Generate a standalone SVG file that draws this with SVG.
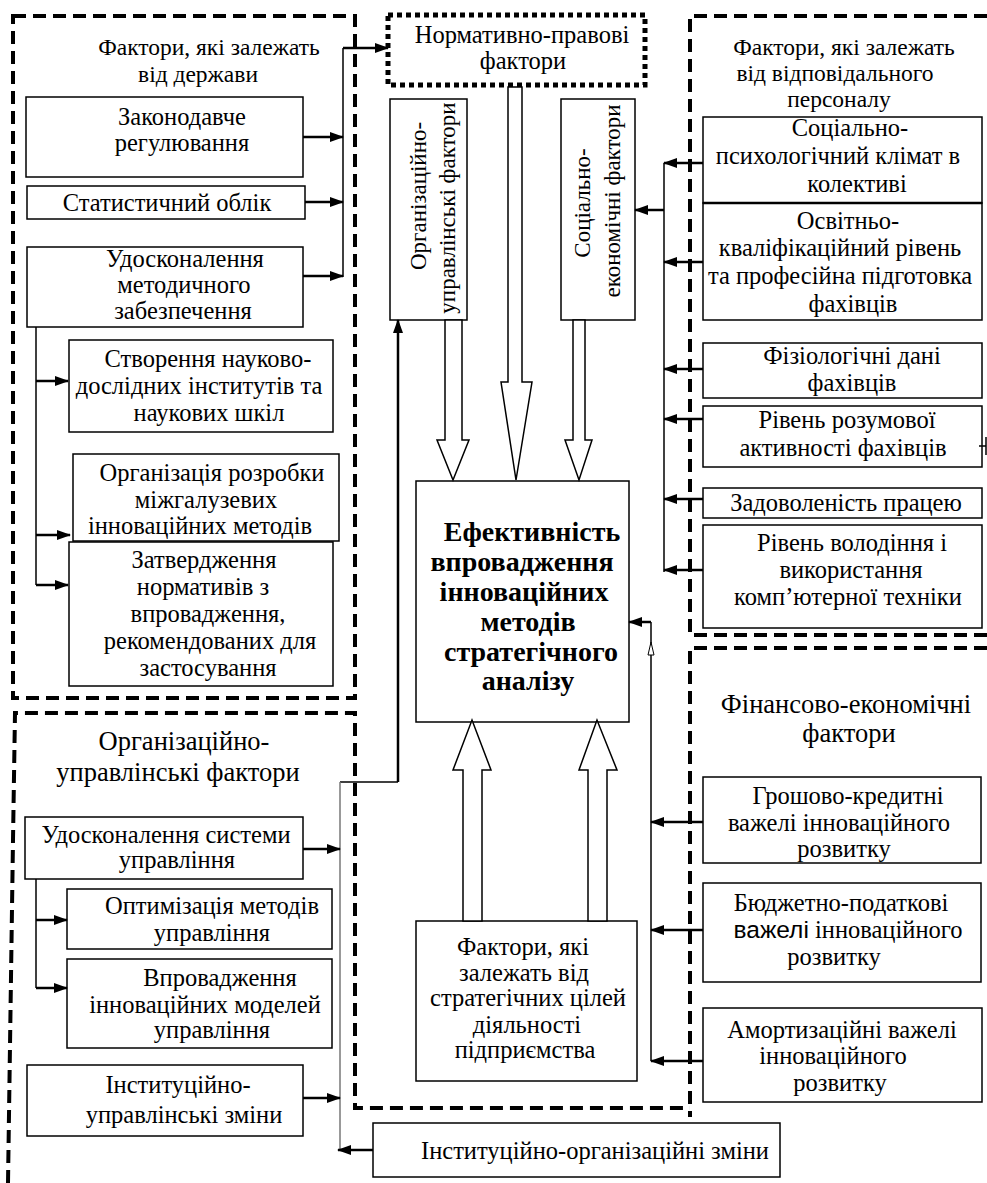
<svg xmlns="http://www.w3.org/2000/svg" width="987" height="1183" viewBox="0 0 987 1183">
<style>
.b{fill:#fff;stroke:#000;stroke-width:1.5}
.t{font-family:"Liberation Serif","Times New Roman",serif;font-size:24.5px;fill:#000;text-anchor:middle}
.tb{font-weight:bold;font-size:28px}
.h{font-size:26.5px}
.hd{font-size:23.5px}
.v{font-size:23px}
.s{font-family:"Liberation Sans",Arial,sans-serif}
.dash{fill:none;stroke:#000;stroke-width:4;stroke-dasharray:13 7}
.dot{fill:#fff;stroke:#000;stroke-width:5;stroke-dasharray:5 4}
.a{fill:none;stroke:#000;stroke-width:2.5;marker-end:url(#ah)}
.l{fill:none;stroke:#000;stroke-width:1.5}
.g{fill:none;stroke:#777;stroke-width:1.5}
.blk{fill:#fff;stroke:#000;stroke-width:1.5}
</style>
<defs>
<marker id="ah" markerUnits="userSpaceOnUse" markerWidth="14" markerHeight="10" refX="13" refY="5" orient="auto"><path d="M0,0 L14,5 L0,10 z" fill="#000"/></marker>
</defs>
<rect width="987" height="1183" fill="#fff"/>

<g id="frames">
<rect class="dash" x="13" y="16" width="342" height="682"/>
<path class="dash" d="M987,16 H690 V635 H987"/>
<path class="dash" d="M987,648 H690 V1117"/>
<path class="dash" d="M8,1183 L13,840 L15,713 H355 V1108 H690"/>
</g>

<g id="g-state">
<text class="t hd" x="209" y="55">Фактори, які залежать</text>
<text class="t hd" x="198" y="82">від держави</text>
</g>
<g id="n-zakon"><rect class="b" x="26" y="97" width="277" height="80"/>
<text class="t" x="182" y="125">Законодавче</text><text class="t" x="182" y="151">регулювання</text></g>
<g id="n-stat"><rect class="b" x="27" y="186" width="278" height="33"/>
<text class="t" x="167" y="211">Статистичний облік</text></g>
<g id="n-udosk"><rect class="b" x="27" y="247" width="276" height="80"/>
<text class="t" x="185" y="267">Удосконалення</text><text class="t" x="184" y="293">методичного</text><text class="t" x="183" y="319">забезпечення</text></g>
<g id="n-stvor"><rect class="b" x="69" y="340" width="264" height="92"/>
<text class="t" x="208" y="367">Створення науково-</text><text class="t" x="199" y="394">дослідних інститутів та</text><text class="t" x="209" y="421">наукових шкіл</text></g>
<g id="n-rozrob"><rect class="b" x="73" y="454" width="266" height="87"/>
<text class="t" x="212" y="481">Організація розробки</text><text class="t" x="206" y="508">міжгалузевих</text><text class="t" x="200" y="534">інноваційних методів</text></g>
<g id="n-zatv"><rect class="b" x="69" y="542" width="264" height="144"/>
<text class="t" x="204" y="568">Затвердження</text><text class="t" x="203" y="595">нормативів з</text><text class="t" x="208" y="622">впровадження,</text><text class="t" x="210" y="649">рекомендованих для</text><text class="t" x="208" y="676">застосування</text></g>

<g id="n-norm"><rect class="dot" x="388" y="15" width="257" height="70"/>
<text class="t" x="522" y="43">Нормативно-правові</text><text class="t" x="523" y="69">фактори</text></g>
<g id="n-orgv"><rect class="b" x="390" y="99" width="77" height="221"/>
<text class="t v" transform="translate(426,196) rotate(-90)">Організаційно-</text>
<text class="t v" transform="translate(455,208) rotate(-90)">управлінські фактори</text></g>
<g id="n-socv"><rect class="b" x="561" y="99" width="74" height="221"/>
<text class="t v" transform="translate(590,203) rotate(-90)">Соціально-</text>
<text class="t v" transform="translate(620,201) rotate(-90)">економічні фактори</text></g>

<g id="n-center"><rect class="b" x="416" y="481" width="213" height="241"/>
<text class="t tb" x="532" y="541">Ефективність</text><text class="t tb" x="522" y="571">впровадження</text><text class="t tb" x="524" y="601">інноваційних</text><text class="t tb" x="528" y="631">методів</text><text class="t tb" x="531" y="661">стратегічного</text><text class="t tb" x="528" y="690">аналізу</text></g>
<g id="n-strat"><rect class="b" x="416" y="921" width="221" height="160"/>
<text class="t" x="523" y="955">Фактори, які</text><text class="t" x="524" y="981">залежать від</text><text class="t" x="528" y="1006">стратегічних цілей</text><text class="t" x="527" y="1033">діяльності</text><text class="t" x="525" y="1058">підприємства</text></g>

<g id="g-personnel">
<text class="t hd" x="844" y="55">Фактори, які залежать</text>
<text class="t hd" x="835" y="81">від відповідального</text>
<text class="t hd" x="839" y="107">персоналу</text>
</g>
<g id="n-sp"><rect class="b" x="703" y="117" width="279" height="86"/>
<text class="t" x="850" y="136">Соціально-</text><text class="t" x="838" y="164">психологічний клімат в</text><text class="t" x="857" y="192">колективі</text></g>
<g id="n-osv"><rect class="b" x="703" y="203" width="279" height="117"/>
<line x1="703" y1="203" x2="982" y2="203" stroke="#000" stroke-width="2.5"/>
<text class="t" x="848" y="229">Освітньо-</text><text class="t" x="840" y="256">кваліфікаційний рівень</text><text class="t" x="840" y="284">та професійна підготовка</text><text class="t" x="853" y="312">фахівців</text></g>
<g id="n-fiz"><rect class="b" x="703" y="343" width="279" height="55"/>
<text class="t" x="852" y="364">Фізіологічні дані</text><text class="t" x="852" y="391">фахівців</text></g>
<g id="n-rozum"><rect class="b" x="703" y="406" width="279" height="61"/>
<text class="t" x="847" y="428">Рівень розумової</text><text class="t" x="843" y="456">активності фахівців</text></g>
<g id="n-zad"><rect class="b" x="703" y="488" width="279" height="30"/>
<text class="t" x="846" y="511">Задоволеність працею</text></g>
<g id="n-volod"><rect class="b" x="703" y="525" width="279" height="103"/>
<text class="t" x="852" y="551">Рівень володіння і</text><text class="t" x="851" y="578">використання</text><text class="t" x="848" y="605">комп’ютерної техніки</text></g>

<g id="g-fin">
<text class="t h" x="846" y="713">Фінансово-економічні</text>
<text class="t h" x="849" y="742">фактори</text>
</g>
<g id="n-grosh"><rect class="b" x="703" y="777" width="278" height="86"/>
<text class="t" x="848" y="804">Грошово-кредитні</text><text class="t" x="839" y="831">важелі інноваційного</text><text class="t" x="844" y="857">розвитку</text></g>
<g id="n-budg"><rect class="b" x="703" y="883" width="278" height="99"/>
<text class="t" x="841" y="911">Бюджетно-податкові</text><text class="t" x="848" y="938"><tspan class="s">важелі</tspan> інноваційного</text><text class="t" x="834" y="965">розвитку</text></g>
<g id="n-amort"><rect class="b" x="703" y="1008" width="279" height="94"/>
<text class="t" x="842" y="1038">Амортизаційні важелі</text><text class="t" x="833" y="1064">інноваційного</text><text class="t" x="840" y="1091">розвитку</text></g>

<g id="g-org">
<text class="t h" x="184" y="750">Організаційно-</text>
<text class="t h" x="178" y="781">управлінські фактори</text>
</g>
<g id="n-udsys"><rect class="b" x="25" y="817" width="278" height="62"/>
<text class="t" x="166" y="843">Удосконалення системи</text><text class="t" x="177" y="868">управління</text></g>
<g id="n-optim"><rect class="b" x="67" y="889" width="265" height="60"/>
<text class="t" x="212" y="914">Оптимізація методів</text><text class="t" x="212" y="941">управління</text></g>
<g id="n-vprov"><rect class="b" x="67" y="959" width="265" height="89"/>
<text class="t" x="220" y="986">Впровадження</text><text class="t" x="205" y="1013">інноваційних моделей</text><text class="t" x="212" y="1038">управління</text></g>
<g id="n-inst"><rect class="b" x="27" y="1065" width="276" height="71"/>
<text class="t" x="178" y="1093">Інституційно-</text><text class="t" x="184" y="1123">управлінські зміни</text></g>
<g id="n-instorg"><rect class="b" x="373" y="1123" width="407" height="54"/>
<text class="t" x="595" y="1159">Інституційно-організаційні зміни</text></g>

<g id="connectors">
<path class="a" d="M303,137 H343"/>
<path class="a" d="M305,202 H343"/>
<path class="a" d="M303,276 H343"/>
<path class="l" d="M343,277 V48"/>
<path class="a" d="M343,48 H388"/>
<path class="l" d="M36,327 V585"/>
<path class="a" d="M36,381 H68"/>
<path class="a" d="M36,535 H70"/>
<path class="a" d="M36,585 H68"/>

<polygon class="blk" points="508,87 522,87 522,382 532,382 516,480 501,382 508,382"/>
<polygon class="blk" points="445,320 462,320 462,440 469,440 453,480 437,440 445,440"/>
<polygon class="blk" points="573,320 585,320 585,440 592,440 579,480 565,440 573,440"/>
<polygon class="blk" points="463,921 482,921 482,770 491,770 472,720 453,770 463,770"/>
<polygon class="blk" points="588,921 607,921 607,770 617,770 597,720 579,770 588,770"/>

<path class="a" d="M703,163 H664"/>
<path class="a" d="M703,262 H664"/>
<path class="a" d="M703,369 H664"/>
<path class="a" d="M703,419 H664"/>
<path class="a" d="M703,499 H664"/>
<path class="a" d="M703,570 H664"/>
<path class="l" d="M664,163 V572"/>
<path class="a" d="M664,210 H635"/>
<path class="l" d="M979,446 H986 M986,437 V455"/>

<path class="a" d="M703,822 H651"/>
<path class="a" d="M703,930 H651"/>
<path class="a" d="M703,1061 H651"/>
<path class="l" d="M651,1061 V622" stroke-width="2"/>
<polygon points="648,655 651,642 654,655" fill="#fff" stroke="#000" stroke-width="1"/>
<path class="a" d="M651,622 H629"/>

<path class="a" d="M398,782 V320" stroke-width="2"/>
<path class="l" d="M398,782 H340" stroke-width="2"/>
<path class="g" d="M340,782 V1150"/>
<path class="a" d="M303,849 H340"/>
<path class="a" d="M303,1098 H340"/>
<path class="a" d="M373,1150 H338"/>
<path class="l" d="M36,879 V988"/>
<path class="a" d="M36,920 H67"/>
<path class="a" d="M36,988 H67"/>
</g>
</svg>
